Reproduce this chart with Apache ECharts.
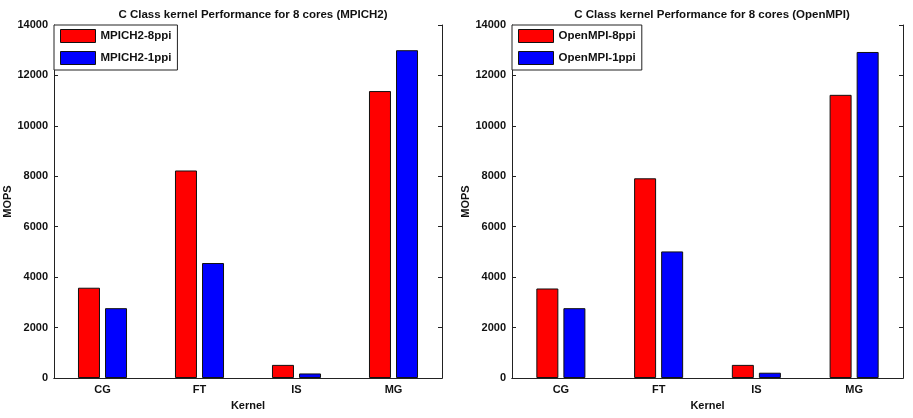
<!DOCTYPE html>
<html>
<head>
<meta charset="utf-8">
<script src="https://cdn.jsdelivr.net/npm/echarts@6/dist/echarts.min.js"></script>
<style>
html, body { margin: 0; padding: 0; background: #fff; }
#chart { width: 913px; height: 418px; }
</style>
</head>
<body>
<div id="chart"></div>
<script>
// kernels on the x axis
var categories = ['CG', 'FT', 'IS', 'MG'];
// MOPS values
var mpich8ppi = [3580, 8230, 520, 11380];
var mpich1ppi = [2770, 4560, 180, 13000];
var openmpi8ppi = [3550, 7920, 520, 11230];
var openmpi1ppi = [2770, 5020, 210, 12930];

var FONT = 'Liberation Sans';
var dom = document.getElementById('chart');
var myChart = echarts.init(dom, null, { renderer: 'canvas' });

var lineStyle = { color: '#222', width: 1 };
var textStyle = { fontFamily: FONT, fontWeight: 'bold', fontSize: 11, color: '#111' };

function bottomX(gridIndex) {
    return {
        type: 'category', gridIndex: gridIndex, data: categories, position: 'bottom',
        name: 'Kernel', nameLocation: 'middle', nameGap: 22,
        nameTextStyle: textStyle,
        axisLine: { lineStyle: lineStyle },
        axisTick: { inside: true, alignWithLabel: true, length: 4, lineStyle: lineStyle },
        axisLabel: Object.assign({ margin: 6 }, textStyle),
        splitLine: { show: false }
    };
}
function topX(gridIndex) {
    return {
        type: 'category', gridIndex: gridIndex, data: categories, position: 'top',
        axisLine: { lineStyle: lineStyle },
        axisTick: { inside: true, alignWithLabel: true, length: 4, lineStyle: lineStyle },
        axisLabel: { show: false }
    };
}
function leftY(gridIndex) {
    return {
        type: 'value', gridIndex: gridIndex, min: 0, max: 14000, interval: 2000, position: 'left',
        name: 'MOPS', nameLocation: 'middle', nameGap: 41,
        nameTextStyle: textStyle,
        axisLine: { show: true, lineStyle: lineStyle },
        axisTick: { show: true, inside: true, length: 4, lineStyle: lineStyle },
        axisLabel: Object.assign({ margin: 6, formatter: function (v) { return String(v); } }, textStyle),
        splitLine: { show: false }
    };
}
function rightY(gridIndex) {
    return {
        type: 'value', gridIndex: gridIndex, min: 0, max: 14000, interval: 2000, position: 'right',
        axisLine: { show: true, lineStyle: lineStyle },
        axisTick: { show: true, inside: true, length: 4, lineStyle: lineStyle },
        axisLabel: { show: false },
        splitLine: { show: false }
    };
}
function barSeries(name, data, color, gridIndex) {
    return {
        name: name, type: 'bar', data: data,
        xAxisIndex: gridIndex * 2, yAxisIndex: gridIndex * 2,
        barWidth: 22, barGap: '23%',
        itemStyle: { color: color, borderColor: '#111', borderWidth: 1 }
    };
}
function legendFor(names, left) {
    return {
        data: names, orient: 'vertical', left: left, top: 25,
        backgroundColor: '#fff', borderColor: '#222', borderWidth: 1,
        padding: [4, 6, 5, 6], itemGap: 8,
        itemWidth: 35, itemHeight: 13, icon: 'rect',
        itemStyle: { borderColor: '#111', borderWidth: 1 },
        textStyle: Object.assign({}, textStyle, { fontSize: 11.5 }),
        selectedMode: false
    };
}

var titleStyle = Object.assign({}, textStyle, { fontSize: 11.5 });

var option = {
    animation: false,
    backgroundColor: '#fff',
    title: [
        { text: 'C Class kernel Performance for 8 cores (MPICH2)', left: 248, top: 4, textAlign: 'center',
          textStyle: titleStyle },
        { text: 'C Class kernel Performance for 8 cores (OpenMPI)', left: 707, top: 4, textAlign: 'center',
          textStyle: titleStyle }
    ],
    legend: [
        legendFor(['MPICH2-8ppi', 'MPICH2-1ppi'], 54),
        legendFor(['OpenMPI-8ppi', 'OpenMPI-1ppi'], 512)
    ],
    grid: [
        { left: 54, right: 471, top: 25, bottom: 40 },
        { left: 512, right: 10, top: 25, bottom: 40 }
    ],
    xAxis: [bottomX(0), topX(0), bottomX(1), topX(1)],
    yAxis: [leftY(0), rightY(0), leftY(1), rightY(1)],
    series: [
        barSeries('MPICH2-8ppi', mpich8ppi, '#ff0000', 0),
        barSeries('MPICH2-1ppi', mpich1ppi, '#0000ff', 0),
        barSeries('OpenMPI-8ppi', openmpi8ppi, '#ff0000', 1),
        barSeries('OpenMPI-1ppi', openmpi1ppi, '#0000ff', 1)
    ]
};

myChart.setOption(option);
window.addEventListener('resize', myChart.resize);
</script>
</body>
</html>
